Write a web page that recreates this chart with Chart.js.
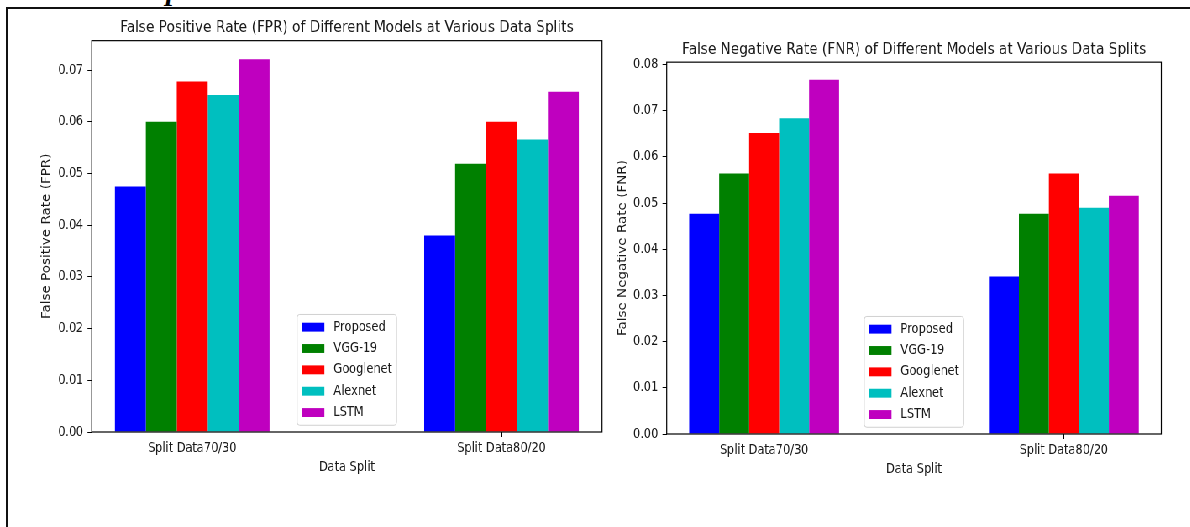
<!DOCTYPE html>
<html>
<head>
<meta charset="utf-8">
<title>FPR / FNR por modelo</title>
<script src="https://cdn.jsdelivr.net/npm/chart.js@4.4.1/dist/chart.umd.min.js"></script>
<style>
    html, body { margin: 0; padding: 0; background: #fff; }
    body { width: 1190px; height: 527px; overflow: hidden; position: relative; }
    /* moldura da página de onde a figura foi recortada */
    #moldura { position: absolute; left: 6px; top: 7px; right: 0; bottom: 0;
               border-top: 2px solid #111; border-left: 2px solid #111; }
    #recorte { position: absolute; left: 166px; top: -25px; font: bold italic 30px "Liberation Serif", serif;
               line-height: 30px; color: #000; }
    /* a figura original está comprimida na horizontal */
    #figura { position: absolute; left: 0; top: 0; width: 1417px; height: 527px;
              transform: scaleX(0.84); transform-origin: 0 0; }
    #boxFpr { position: absolute; left: 0; top: 0; width: 760px; height: 527px; }
    #boxFnr { position: absolute; left: 700px; top: 0; width: 717px; height: 527px; }
</style>
</head>
<body>
<div id="moldura"></div>
<div id="recorte">p</div>
<div id="figura">
    <div id="boxFpr"><canvas id="fprChart"></canvas></div>
    <div id="boxFnr"><canvas id="fnrChart"></canvas></div>
</div>
<script>
// Dados
const splits = ['Split Data70/30', 'Split Data80/20'];
const models = ['Proposed', 'VGG-19', 'Googlenet', 'Alexnet', 'LSTM'];

const fprProposed  = [0.0475, 0.0380];
const fprVgg19     = [0.0600, 0.0519];
const fprGooglenet = [0.0678, 0.0600];
const fprAlexnet   = [0.0652, 0.0566];
const fprLstm      = [0.0721, 0.0658];

const fnrProposed  = [0.0477, 0.0341];
const fnrVgg19     = [0.0564, 0.0477];
const fnrGooglenet = [0.0652, 0.0564];
const fnrAlexnet   = [0.0684, 0.0490];
const fnrLstm      = [0.0767, 0.0516];

// cores estilo matplotlib: b, g, r, c, m
const modelColors = ['#0000ff', '#008000', '#ff0000', '#00bfbf', '#bf00bf'];

Chart.defaults.font.family = '"DejaVu Sans", sans-serif';
Chart.defaults.color = '#1a1a1a';

const FS = 13.5; // 10pt
const TXT = '#1a1a1a';

// moldura preta em volta da área do gráfico
const framePlugin = {
    id: 'frame',
    afterDatasetsDraw(chart) {
        const { ctx, chartArea: a } = chart;
        ctx.save();
        ctx.strokeStyle = '#000';
        ctx.lineWidth = 1.2;
        ctx.strokeRect(a.left, a.top, a.width, a.height);
        ctx.restore();
    }
};

// legenda no estilo matplotlib, "lower center" dentro da área
const legendPlugin = {
    id: 'mplLegend',
    afterDraw(chart) {
        const { ctx, chartArea: a } = chart;
        const sets = chart.data.datasets;
        ctx.save();
        ctx.font = FS + 'px "DejaVu Sans"';
        const textW = Math.max(...sets.map(d => ctx.measureText(d.label).width));
        const pad = 0.4 * FS, handleW = 2 * FS, gap = 0.8 * FS, rowH = 14.6, rowGap = 0.5 * FS;
        const boxW = pad * 2 + handleW + gap + textW;
        const boxH = pad * 2 + sets.length * rowH + (sets.length - 1) * rowGap;
        const x0 = (a.left + a.right) / 2 - boxW / 2;
        const y0 = a.bottom - 0.5 * FS - boxH;

        ctx.beginPath();
        ctx.roundRect(x0, y0, boxW, boxH, 3);
        ctx.fillStyle = 'rgba(255,255,255,0.8)';
        ctx.fill();
        ctx.strokeStyle = '#d0d0d0';
        ctx.lineWidth = 1;
        ctx.stroke();

        sets.forEach((d, i) => {
            const yc = y0 + pad + rowH / 2 + i * (rowH + rowGap);
            ctx.fillStyle = d.backgroundColor;
            ctx.fillRect(x0 + pad, yc - 0.33 * FS, handleW, 0.66 * FS);
            ctx.fillStyle = TXT;
            ctx.textBaseline = 'middle';
            ctx.textAlign = 'left';
            ctx.fillText(d.label, x0 + pad + handleW + gap, yc);
        });
        ctx.restore();
    }
};

function makeDatasets(series) {
    return models.map((m, i) => ({
        label: m,
        data: splits.map((s, j) => ({ x: j, y: series[i][j] })),
        backgroundColor: modelColors[i],
        borderWidth: 0
    }));
}

function makeChart(canvasId, title, yTitle, series, lay) {
    const allValues = series.flat();
    return new Chart(document.getElementById(canvasId), {
        type: 'bar',
        data: { datasets: makeDatasets(series) },
        plugins: [framePlugin, legendPlugin],
        options: {
            responsive: true,
            maintainAspectRatio: false,
            animation: false,
            layout: { padding: { left: 0, right: lay.padRight, top: 0, bottom: lay.padBottom } },
            datasets: { bar: { barPercentage: 1, categoryPercentage: 0.5, grouped: true } },
            plugins: {
                legend: { display: false },
                tooltip: { enabled: false },
                title: {
                    display: true,
                    text: title,
                    fullSize: false,
                    color: TXT,
                    font: { size: 16.3, weight: 'normal' },
                    padding: { top: lay.titleTop, bottom: lay.titleBottom }
                }
            },
            scales: {
                x: {
                    type: 'linear',
                    min: -0.325,
                    max: 1.325,
                    offset: false,
                    afterBuildTicks: s => { s.ticks = splits.map((_, i) => ({ value: i })); },
                    afterFit: s => { s.height = 44; },
                    ticks: {
                        autoSkip: false,
                        maxRotation: 0,
                        padding: 3,
                        font: { size: FS },
                        color: TXT,
                        callback: v => splits[v]
                    },
                    grid: { offset: false, drawOnChartArea: false, drawTicks: true, tickLength: 5, tickColor: '#000' },
                    border: { display: false },
                    title: { display: true, text: 'Data Split', color: TXT, font: { size: FS }, padding: { top: 0, bottom: 0 } }
                },
                y: {
                    min: 0,
                    max: Math.max(...allValues) * 1.05,
                    afterFit: s => { s.width = lay.yWidth; },
                    ticks: {
                        stepSize: 0.01,
                        includeBounds: false,
                        padding: 5,
                        font: { size: FS },
                        color: TXT,
                        callback: v => v.toFixed(2)
                    },
                    grid: { drawOnChartArea: false, drawTicks: true, tickLength: 5, tickColor: '#000' },
                    border: { display: false },
                    title: { display: true, text: yTitle, color: TXT, font: { size: FS }, padding: { top: lay.yTitlePad, bottom: 0 } }
                }
            }
        }
    });
}

document.addEventListener('DOMContentLoaded', function() {
    makeChart('fprChart',
        'False Positive Rate (FPR) of Different Models at Various Data Splits',
        'False Positive Rate (FPR)',
        [fprProposed, fprVgg19, fprGooglenet, fprAlexnet, fprLstm],
        { padRight: 43.3, padBottom: 51, titleTop: 18.2, titleBottom: 2.9, yWidth: 109.2, yTitlePad: 47.3 });

    makeChart('fnrChart',
        'False Negative Rate (FNR) of Different Models at Various Data Splits',
        'False Negative Rate (FNR)',
        [fnrProposed, fnrVgg19, fnrGooglenet, fnrAlexnet, fnrLstm],
        { padRight: 34.5, padBottom: 49, titleTop: 39.7, titleBottom: 2.9, yWidth: 93.7, yTitlePad: 33 });
});
</script>
</body>
</html>
